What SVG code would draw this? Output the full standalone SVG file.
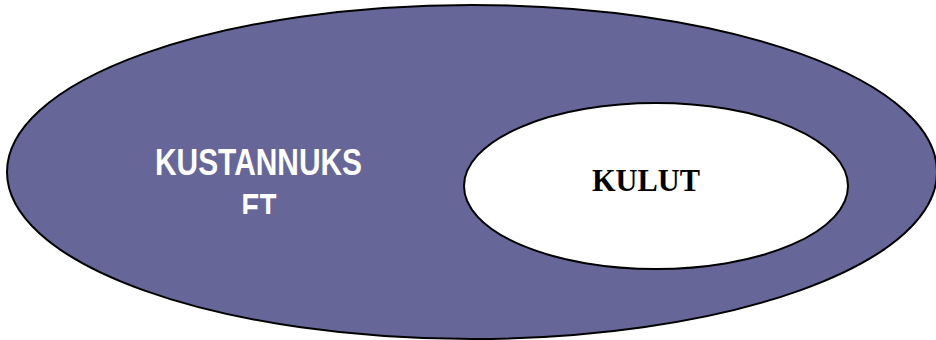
<svg xmlns="http://www.w3.org/2000/svg" width="936" height="340" viewBox="0 0 936 340">
  <style>
    .set { stroke: #000; stroke-width: 2; }
    .outer { fill: #666699; }
    .inner { fill: #ffffff; }
    .label-outer { font-family: "Liberation Sans", Arial, sans-serif; font-weight: bold; font-size: 37px; fill: #ffffff; text-anchor: middle; }
    .label-inner { font-family: "Liberation Serif", "Times New Roman", serif; font-weight: bold; font-size: 31px; fill: #000; text-anchor: middle; }
  </style>
  <defs>
    <!-- the outer label sits in a box that cuts off its second line -->
    <clipPath id="outerLabelBox">
      <rect x="120" y="130" width="280" height="84"/>
    </clipPath>
  </defs>
  <rect width="936" height="340" fill="#ffffff"/>
  <g id="kustannukset">
    <ellipse class="set outer" cx="472" cy="172" rx="465" ry="167"/>
    <g clip-path="url(#outerLabelBox)">
      <text class="label-outer" x="258.5" y="175" textLength="207" lengthAdjust="spacingAndGlyphs">KUSTANNUKS</text>
      <text class="label-outer" x="259" y="220" textLength="35" lengthAdjust="spacingAndGlyphs">ET</text>
    </g>
  </g>
  <g id="kulut">
    <ellipse class="set inner" cx="656" cy="186" rx="192" ry="83"/>
    <text class="label-inner" x="646" y="191" textLength="108" lengthAdjust="spacingAndGlyphs">KULUT</text>
  </g>
  <g id="connectors"/>
</svg>
